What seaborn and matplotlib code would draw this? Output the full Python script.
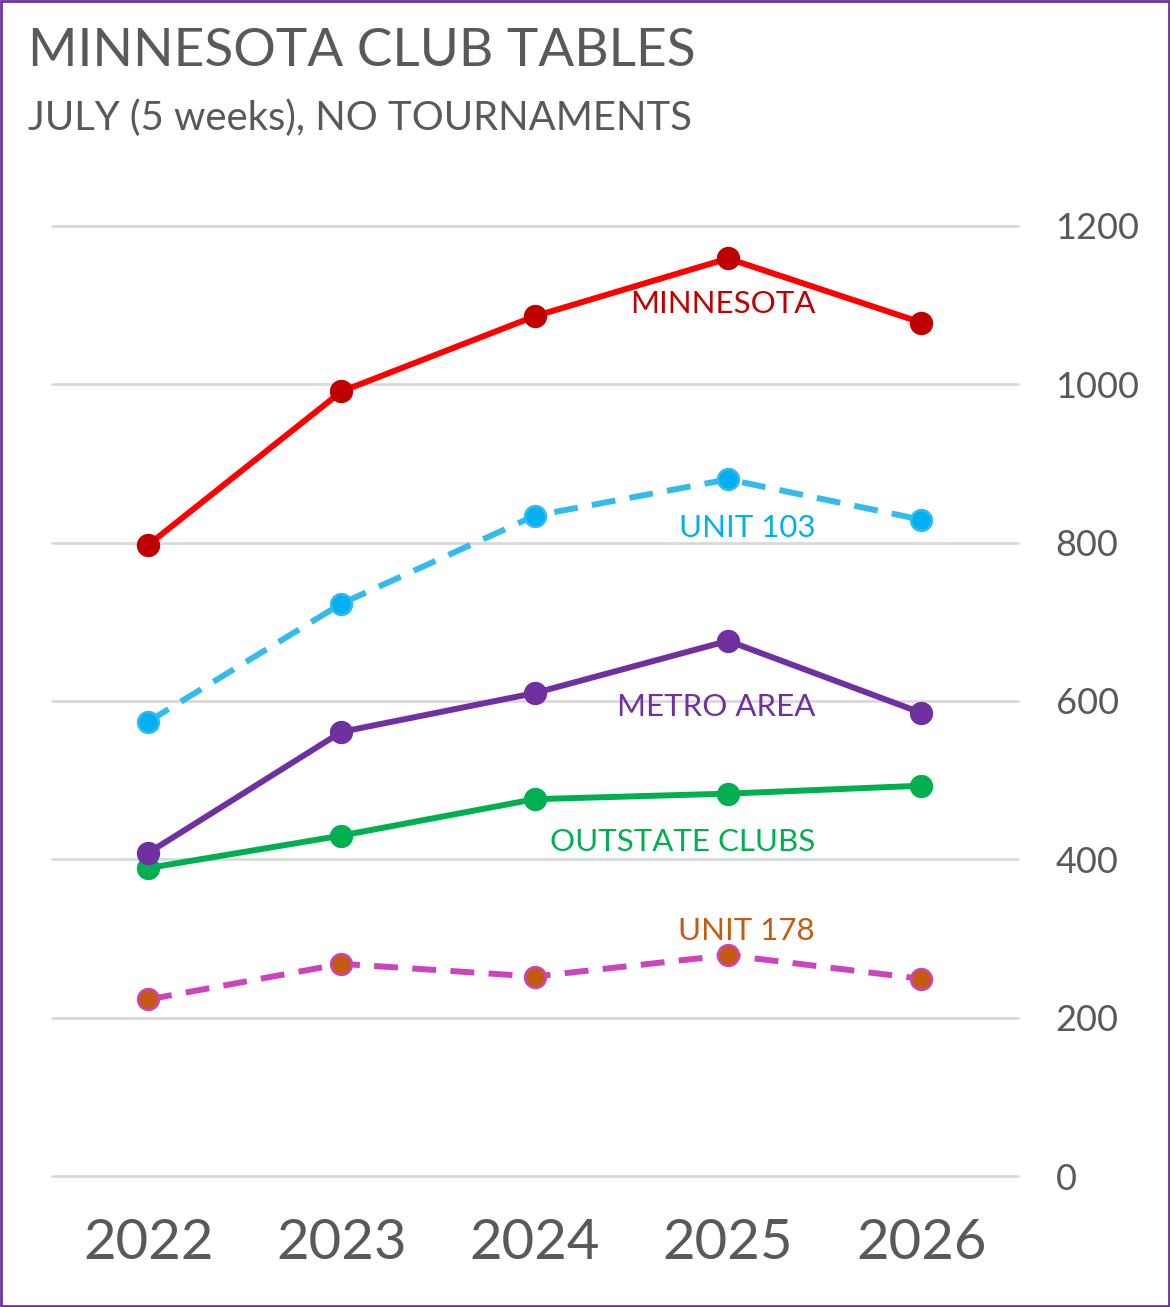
import numpy as np
import pandas as pd
import matplotlib
matplotlib.use("Agg")
import matplotlib.pyplot as plt
import seaborn as sns
from matplotlib.patches import Rectangle

years = [2022, 2023, 2024, 2025, 2026]
minnesota = [797, 991, 1086, 1159, 1078]
unit_103 = [574, 723, 834, 880, 829]
metro_area = [408, 561, 610, 676, 585]
outstate_clubs = [389, 430, 476, 483, 493]
unit_178 = [223, 268, 252, 279, 249]
y_ticks = [0, 200, 400, 600, 800, 1000, 1200]

sns.set_theme(style="white")
plt.rcParams['font.family'] = ['Lato', 'DejaVu Sans']

fig = plt.figure(figsize=(11.7, 13.07), dpi=100)
ax = fig.add_axes([51.5 / 1170, 1 - 1176 / 1307, (1018 - 51.5) / 1170, 950 / 1307])

# (values, line colour, marker fill, marker edge, dashed?, label, label colour, label y)
series = [
    (unit_178, "#CC44BB", "#C55A11", "#CC44BB", True, "UNIT 178", "#C55A11", 310),
    (outstate_clubs, "#00B050", "#00B050", "#00B050", False, "OUTSTATE CLUBS", "#00B050", 422),
    (metro_area, "#7030A0", "#7030A0", "#7030A0", False, "METRO AREA", "#7030A0", 592),
    (unit_103, "#33BBEE", "#00B0F0", "#33BBEE", True, "UNIT 103", "#00B0F0", 818),
    (minnesota, "#FF0000", "#C00000", "#C00000", False, "MINNESOTA", "#C00000", 1101),
]

for vals, lc, mfc, mec, dashed, name, tc, ly in series:
    df = pd.DataFrame({"year": years, "tables": vals})
    sns.lineplot(data=df, x="year", y="tables", ax=ax, color=lc, linewidth=4.3,
                 marker="o", markersize=15, markerfacecolor=mfc, markeredgecolor=mec,
                 markeredgewidth=1.8, clip_on=False,
                 dashes=False)
    line = ax.lines[-1]
    if dashed:
        line.set_dashes([4, 2.4])
    ax.text(2025.45, ly, name, color=tc, fontsize=22.5, ha="right", va="center")

ax.set_xlim(2021.5, 2026.5)
ax.set_ylim(0, 1200)
ax.set_xticks(years)
ax.set_xticklabels([str(y) for y in years])
ax.set_yticks(y_ticks)
ax.yaxis.tick_right()
ax.tick_params(axis="x", labelsize=40.5, colors="#595959", length=0, pad=30)
ax.tick_params(axis="y", labelsize=26, colors="#595959", length=0, pad=27)
for lbl in ax.get_yticklabels():
    lbl.set_horizontalalignment("left")
ax.grid(axis="y", color="#D9D9D9", linewidth=2)
for gl in ax.yaxis.get_gridlines():
    gl.set_clip_on(False)
ax.set_axisbelow(True)
for s in ax.spines.values():
    s.set_visible(False)
ax.set_xlabel("")
ax.set_ylabel("")

fig.text(28 / 1170, 1 - 52 / 1307, "MINNESOTA CLUB TABLES", fontsize=38.3, color="#595959",
         ha="left", va="center")
fig.text(28 / 1170, 1 - 118 / 1307, "JULY (5 weeks), NO TOURNAMENTS", fontsize=28.8,
         color="#595959", ha="left", va="center")

fig.patches.append(Rectangle((0.001, 0.001), 0.998, 0.998, transform=fig.transFigure,
                             fill=False, edgecolor="#7030A0", linewidth=2))

fig.savefig("out.png", dpi=100, facecolor="white")
